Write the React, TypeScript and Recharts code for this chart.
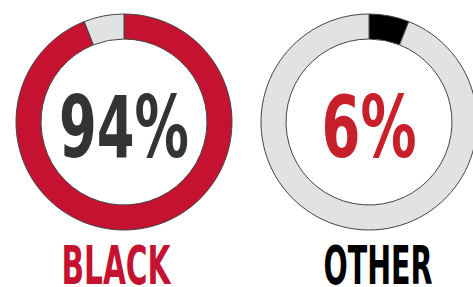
import React from "react";
import { PieChart, Pie, Cell } from "recharts";

const groups = ["BLACK", "OTHER"];
const shares = [94, 6];
const ringColors = [
  ["#c41230", "#e1e2e4"],
  ["#000000", "#e1e2e4"],
];
const pctColors = ["#333333", "#c8202a"];
const nameColors = ["#c41230", "#000000"];

const centersX = [124, 369];
const CY = 122;
const OUTER = 108;
const INNER = 83;

const donuts = groups.map((name, i) => ({
  name,
  share: shares[i],
  data: [
    { name, value: shares[i] },
    { name: "rest", value: 100 - shares[i] },
  ],
  colors: ringColors[i],
  cx: centersX[i],
}));

const FONT = "'DejaVu Sans Condensed', 'Liberation Sans Narrow', 'DejaVu Sans', sans-serif";

export default function App() {
  return (
    <div style={{ position: "absolute", left: 0, top: 0, width: 473, height: 287, background: "#fff" }}>
      <PieChart width={473} height={287} margin={{ top: 0, right: 0, bottom: 0, left: 0 }}>
        {donuts.map((d) => (
          <Pie
            key={d.name}
            data={d.data}
            dataKey="value"
            cx={d.cx}
            cy={CY}
            innerRadius={INNER}
            outerRadius={OUTER}
            startAngle={90}
            endAngle={-270}
            stroke="#444"
            strokeWidth={1}
            isAnimationActive={false}
          >
            {d.data.map((entry, j) => (
              <Cell key={`cell-${j}`} fill={d.colors[j]} />
            ))}
          </Pie>
        ))}
      </PieChart>
      <svg
        width={473}
        height={287}
        style={{ position: "absolute", left: 0, top: 0, pointerEvents: "none" }}
      >
        {donuts.map((d, i) => {
          const pct = `${d.share}%`;
          return (
            <g key={d.name}>
              <text
                x={d.cx}
                y={CY + 35}
                textAnchor="middle"
                fontFamily={FONT}
                fontWeight="bold"
                fontSize={85}
                fill={pctColors[i]}
                textLength={pct.length === 3 ? 130 : 95}
                lengthAdjust="spacingAndGlyphs"
              >
                {pct}
              </text>
              <text
                x={d.cx - (i === 0 ? 8 : -9)}
                y={284}
                textAnchor="middle"
                fontFamily={FONT}
                fontWeight="bold"
                fontSize={53}
                fill={nameColors[i]}
                textLength={109}
                lengthAdjust="spacingAndGlyphs"
              >
                {d.name}
              </text>
            </g>
          );
        })}
      </svg>
    </div>
  );
}
